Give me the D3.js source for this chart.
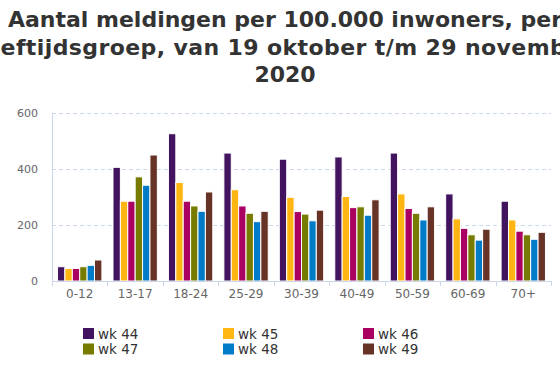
<html>
  <head>
    <script src="https://d3js.org/d3.v7.min.js"></script>
    <style>
      body { margin: 0; background: #fff; }
      text { font-family: Verdana, "DejaVu Sans", sans-serif; }
    </style>
  </head>
  <body>
    <svg width="560" height="373"></svg>
    <script>
      // data
      var groups = ["0-12", "13-17", "18-24", "25-29", "30-39", "40-49", "50-59", "60-69", "70+"];
      var weeks = ["wk 44", "wk 45", "wk 46", "wk 47", "wk 48", "wk 49"];
      var wk44 = [51, 406, 526, 457, 435, 443, 457, 311, 285];
      var wk45 = [45, 285, 352, 326, 299, 302, 311, 222, 218];
      var wk46 = [45, 285, 285, 268, 248, 262, 259, 188, 178];
      var wk47 = [51, 372, 268, 242, 239, 265, 242, 165, 165];
      var wk48 = [56, 342, 249, 212, 215, 235, 218, 146, 149];
      var wk49 = [75, 450, 318, 249, 253, 290, 265, 185, 174];
      var yTicks = [0, 200, 400, 600];
      var colors = ["#42145f", "#ffb612", "#a90061", "#777c00", "#007bc7", "#673327"];

      var series = [wk44, wk45, wk46, wk47, wk48, wk49];

      var svg = d3.select("svg");

      // title (wider than the chart, clipped at both sides like the original)
      var title = ["Aantal meldingen per 100.000 inwoners, per",
                   "leeftijdsgroep, van 19 oktober t/m 29 november",
                   "2020"];
      svg.append("text")
        .attr("text-anchor", "middle")
        .attr("font-size", "22px")
        .attr("font-weight", "bold")
        .attr("fill", "#333333")
        .selectAll("tspan")
        .data(title)
        .enter().append("tspan")
        .attr("x", 285)
        .attr("y", function(d, i) { return 27 + i * 27.5; })
        .attr("letter-spacing", function(d, i) { return i == 1 ? "0.4px" : null; })
        .text(function(d) { return d; });

      // scales
      var x = d3.scaleBand()
        .domain(groups)
        .range([52, 551])
        .paddingInner(0.2)
        .paddingOuter(0.1);

      var xs = d3.scaleBand()
        .domain(d3.range(weeks.length))
        .range([0, x.bandwidth()]);

      var y = d3.scaleLinear()
        .domain([0, 600])
        .range([281, 113]);

      // grid
      svg.append("g")
        .selectAll("line")
        .data(yTicks.slice(1))
        .enter().append("line")
        .attr("x1", 52)
        .attr("x2", 551)
        .attr("y1", function(d) { return y(d) + 0.5; })
        .attr("y2", function(d) { return y(d) + 0.5; })
        .attr("stroke", "#c9d7ea")
        .attr("stroke-dasharray", "4,3");

      // y labels
      svg.append("g")
        .selectAll("text")
        .data(yTicks)
        .enter().append("text")
        .attr("x", 38)
        .attr("y", function(d) { return y(d) + 4; })
        .attr("text-anchor", "end")
        .attr("font-size", "11px")
        .attr("fill", "#666666")
        .text(function(d) { return d; });

      // y axis line
      svg.append("line")
        .attr("x1", 52.5).attr("x2", 52.5)
        .attr("y1", 113).attr("y2", 281)
        .attr("stroke", "#ccd6eb");

      // bars
      var bars = svg.append("g");
      series.forEach(function(vals, s) {
        bars.append("g")
          .selectAll("rect")
          .data(vals)
          .enter().append("rect")
          .attr("x", function(d, i) { return x(groups[i]) + xs(s); })
          .attr("y", function(d) { return y(d); })
          .attr("width", xs.bandwidth())
          .attr("height", function(d) { return y(0) - y(d); })
          .attr("fill", colors[s])
          .attr("stroke", "#ffffff")
          .attr("stroke-width", 1);
      });

      // x axis
      var xAxis = svg.append("g");
      xAxis.append("line")
        .attr("x1", 52).attr("x2", 551)
        .attr("y1", 281.5).attr("y2", 281.5)
        .attr("stroke", "#ccd6eb");

      var bounds = groups.map(function(g) { return x(g) - x.step() * x.paddingInner() / 2; });
      bounds.push(551);
      bounds[0] = 52;
      xAxis.selectAll(".tick")
        .data(bounds)
        .enter().append("line")
        .attr("class", "tick")
        .attr("x1", function(d) { return Math.round(d) + 0.5; })
        .attr("x2", function(d) { return Math.round(d) + 0.5; })
        .attr("y1", 281)
        .attr("y2", 286)
        .attr("stroke", "#ccd6eb");

      xAxis.selectAll(".label")
        .data(groups)
        .enter().append("text")
        .attr("class", "label")
        .attr("x", function(d) { return x(d) + x.bandwidth() / 2; })
        .attr("y", 298)
        .attr("text-anchor", "middle")
        .attr("font-size", "12px")
        .attr("fill", "#666666")
        .text(function(d) { return d; });

      // legend
      var legend = svg.append("g");
      var item = legend.selectAll("g")
        .data(weeks)
        .enter().append("g")
        .attr("transform", function(d, i) {
          return "translate(" + (83 + (i % 3) * 140) + "," + (328 + Math.floor(i / 3) * 15.5) + ")";
        });
      item.append("rect")
        .attr("width", 11)
        .attr("height", 11)
        .attr("fill", function(d, i) { return colors[i]; });
      item.append("text")
        .attr("x", 15)
        .attr("y", 10.5)
        .attr("font-size", "13.5px")
        .attr("fill", "#333333")
        .text(function(d) { return d; });
    </script>
  </body>
</html>
